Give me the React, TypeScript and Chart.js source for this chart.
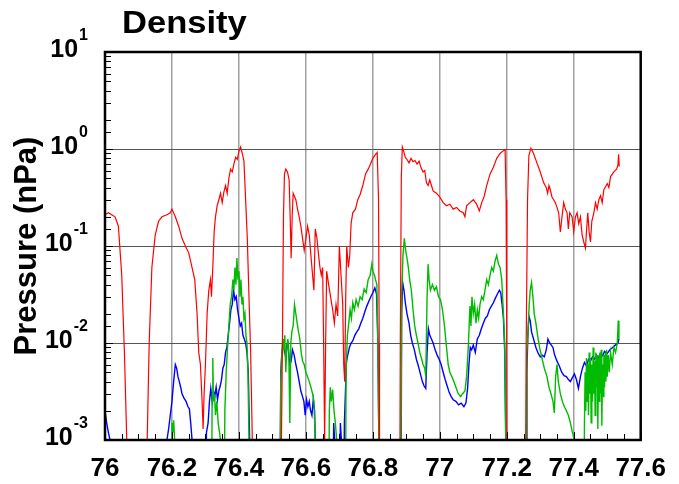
import React, { useEffect, useRef } from "react";
import { Chart, registerables } from "chart.js";
Chart.register(...registerables);

const TITLE = "Density";
const Y_TITLE = "Pressure (nPa)";
const X_MIN = 76;
const X_MAX = 77.6;
const X_LABEL_STEP = 0.2;
const X_MINOR_STEP = 0.05;
const Y_MIN = 1e-3;
const Y_MAX = 10;
const FLOOR = 1e-4; // values below the axis floor (off-scale)

const redX = [76.000,76.010,76.020,76.030,76.040,76.050,76.058,76.065,76.068,76.120,76.126,76.132,76.140,76.150,76.160,76.170,76.185,76.195,76.200,76.210,76.220,76.230,76.240,76.250,76.260,76.268,76.275,76.280,76.285,76.290,76.293,76.296,76.300,76.305,76.310,76.315,76.318,76.322,76.326,76.330,76.335,76.340,76.345,76.350,76.355,76.360,76.365,76.370,76.375,76.380,76.385,76.390,76.395,76.400,76.405,76.410,76.415,76.420,76.425,76.430,76.435,76.440,76.443,76.525,76.527,76.530,76.533,76.536,76.540,76.545,76.550,76.553,76.556,76.559,76.562,76.570,76.575,76.580,76.585,76.590,76.595,76.600,76.605,76.610,76.615,76.620,76.624,76.628,76.633,76.638,76.642,76.646,76.650,76.653,76.656,76.659,76.662,76.668,76.675,76.680,76.685,76.690,76.695,76.700,76.705,76.710,76.713,76.716,76.719,76.722,76.727,76.731,76.735,76.740,76.748,76.755,76.762,76.770,76.778,76.786,76.793,76.800,76.808,76.813,76.817,76.819,76.820,76.880,76.882,76.885,76.888,76.892,76.897,76.902,76.908,76.914,76.920,76.926,76.932,76.938,76.944,76.950,76.955,76.960,76.965,76.970,76.975,76.980,76.990,77.000,77.010,77.020,77.030,77.040,77.050,77.060,77.070,77.075,77.080,77.090,77.100,77.110,77.118,77.125,77.132,77.140,77.150,77.160,77.170,77.180,77.188,77.195,77.198,77.200,77.201,77.255,77.258,77.262,77.266,77.272,77.280,77.290,77.300,77.310,77.318,77.322,77.326,77.330,77.335,77.340,77.345,77.350,77.355,77.360,77.365,77.370,77.375,77.380,77.384,77.388,77.395,77.400,77.405,77.410,77.415,77.420,77.425,77.430,77.435,77.438,77.442,77.446,77.450,77.454,77.460,77.465,77.470,77.475,77.480,77.485,77.490,77.500,77.505,77.510,77.520,77.528,77.532,77.534,77.536];
const redY = [0.21,0.22,0.21,0.20,0.16,0.05,0.008,0.001,FLOOR,FLOOR,0.001,0.01,0.06,0.13,0.18,0.20,0.21,0.22,0.24,0.20,0.16,0.12,0.10,0.085,0.06,0.045,0.02,0.008,0.006,0.0025,0.0013,0.003,0.006,0.02,0.035,0.045,0.03,0.06,0.14,0.20,0.26,0.30,0.35,0.28,0.36,0.42,0.35,0.50,0.62,0.58,0.70,0.82,0.78,0.95,1.05,0.90,0.75,0.30,0.12,0.03,0.008,0.001,FLOOR,FLOOR,0.001,0.01,0.2,0.55,0.62,0.58,0.48,0.20,0.075,0.20,0.35,0.30,0.24,0.20,0.16,0.12,0.09,0.12,0.16,0.13,0.08,0.05,0.035,0.15,0.12,0.08,0.06,0.05,0.06,0.01,0.001,0.01,0.055,0.04,0.028,0.022,0.016,0.025,0.019,0.1,0.05,0.025,0.006,0.004,0.03,0.1,0.06,0.08,0.17,0.22,0.24,0.30,0.34,0.42,0.55,0.62,0.70,0.80,0.88,0.92,0.30,0.01,FLOOR,FLOOR,0.01,0.5,1.05,0.95,0.82,0.78,0.72,0.80,0.74,0.76,0.70,0.75,0.64,0.58,0.60,0.45,0.42,0.48,0.42,0.37,0.35,0.32,0.28,0.26,0.27,0.24,0.25,0.23,0.22,0.20,0.26,0.28,0.30,0.27,0.23,0.28,0.32,0.42,0.55,0.65,0.80,0.90,0.95,0.98,0.30,0.01,FLOOR,FLOOR,0.01,0.3,0.85,1.02,0.90,0.72,0.58,0.45,0.40,0.35,0.42,0.38,0.32,0.30,0.28,0.25,0.22,0.14,0.20,0.28,0.24,0.22,0.15,0.22,0.20,0.14,0.20,0.22,0.17,0.20,0.13,0.11,0.095,0.14,0.22,0.14,0.11,0.18,0.22,0.28,0.24,0.30,0.33,0.28,0.38,0.44,0.40,0.52,0.58,0.62,0.68,0.88,0.66];

const greenX = [76.000,76.195,76.198,76.200,76.203,76.205,76.208,76.210,76.318,76.320,76.322,76.324,76.327,76.330,76.334,76.338,76.342,76.345,76.348,76.355,76.358,76.362,76.366,76.370,76.374,76.378,76.382,76.385,76.388,76.391,76.394,76.397,76.400,76.403,76.406,76.409,76.412,76.415,76.418,76.421,76.424,76.427,76.430,76.432,76.522,76.525,76.528,76.531,76.534,76.537,76.540,76.543,76.546,76.549,76.552,76.555,76.558,76.562,76.566,76.570,76.574,76.578,76.582,76.586,76.590,76.595,76.600,76.605,76.610,76.615,76.620,76.624,76.628,76.630,76.668,76.670,76.673,76.676,76.680,76.684,76.688,76.692,76.694,76.718,76.720,76.724,76.728,76.732,76.736,76.740,76.745,76.750,76.756,76.762,76.768,76.774,76.780,76.786,76.792,76.797,76.800,76.805,76.808,76.812,76.815,76.818,76.820,76.883,76.886,76.890,76.894,76.898,76.902,76.906,76.910,76.915,76.920,76.925,76.930,76.935,76.940,76.945,76.950,76.955,76.958,76.962,76.965,76.968,76.972,76.978,76.984,76.990,76.996,77.002,77.008,77.014,77.020,77.025,77.030,77.036,77.042,77.048,77.055,77.062,77.068,77.075,77.080,77.085,77.090,77.093,77.096,77.100,77.104,77.108,77.112,77.116,77.120,77.125,77.130,77.135,77.140,77.145,77.150,77.155,77.160,77.165,77.170,77.175,77.180,77.185,77.190,77.194,77.197,77.199,77.258,77.260,77.263,77.267,77.270,77.274,77.278,77.282,77.287,77.292,77.298,77.305,77.312,77.320,77.326,77.332,77.338,77.342,77.346,77.350,77.354,77.360,77.366,77.372,77.378,77.384,77.390,77.396,77.402,77.405,77.430,77.432,77.434,77.436,77.438,77.440,77.442,77.444,77.446,77.448,77.450,77.452,77.454,77.456,77.458,77.460,77.462,77.464,77.466,77.468,77.470,77.472,77.474,77.476,77.478,77.480,77.482,77.484,77.486,77.488,77.490,77.492,77.494,77.496,77.498,77.500,77.503,77.506,77.510,77.515,77.520,77.525,77.530,77.533,77.535];
const greenY = [FLOOR,FLOOR,0.001,0.0015,0.0012,0.0016,0.001,FLOOR,FLOOR,0.003,0.007,0.0025,0.003,0.0018,0.0025,0.0015,0.0012,0.001,FLOOR,FLOOR,0.002,0.005,0.009,0.015,0.025,0.03,0.045,0.035,0.06,0.04,0.075,0.045,0.055,0.03,0.045,0.025,0.03,0.018,0.02,0.012,0.01,0.005,0.001,FLOOR,FLOOR,0.004,0.008,0.011,0.009,0.012,0.005,0.009,0.011,0.008,0.0015,0.01,0.013,0.015,0.025,0.02,0.016,0.013,0.011,0.008,0.0065,0.006,0.005,0.0045,0.004,0.0035,0.003,0.0025,0.001,FLOOR,FLOOR,0.002,0.0035,0.0025,0.0033,0.002,0.0015,0.001,FLOOR,FLOOR,0.005,0.012,0.016,0.022,0.018,0.026,0.022,0.028,0.024,0.03,0.028,0.036,0.033,0.045,0.05,0.065,0.055,0.05,0.045,0.04,0.01,0.001,FLOOR,FLOOR,0.03,0.08,0.12,0.09,0.075,0.06,0.045,0.035,0.022,0.015,0.012,0.01,0.008,0.007,0.006,0.0055,0.0045,0.03,0.065,0.045,0.035,0.04,0.035,0.038,0.03,0.028,0.022,0.015,0.009,0.006,0.005,0.0045,0.004,0.0035,0.003,0.0028,0.003,0.0032,0.0045,0.009,0.024,0.015,0.03,0.02,0.025,0.016,0.022,0.018,0.025,0.03,0.028,0.035,0.045,0.04,0.05,0.06,0.055,0.07,0.08,0.065,0.06,0.045,0.02,0.01,0.001,FLOOR,FLOOR,0.008,0.012,0.025,0.035,0.042,0.03,0.02,0.016,0.012,0.009,0.007,0.0055,0.0045,0.0035,0.003,0.0025,0.0019,0.0045,0.006,0.004,0.003,0.0025,0.0022,0.002,0.0018,0.0015,0.0012,0.001,FLOOR,FLOOR,0.0015,0.005,0.002,0.007,0.0025,0.006,0.0018,0.008,0.003,0.007,0.0015,0.006,0.0025,0.009,0.003,0.0065,0.0018,0.008,0.0035,0.0075,0.0013,0.007,0.0025,0.008,0.003,0.0085,0.0014,0.006,0.0028,0.0075,0.0035,0.008,0.004,0.0085,0.0045,0.0075,0.005,0.008,0.006,0.009,0.008,0.01,0.017,0.011];

const blueX = [76.000,76.005,76.010,76.015,76.018,76.180,76.185,76.190,76.195,76.200,76.205,76.210,76.214,76.218,76.222,76.226,76.230,76.236,76.242,76.248,76.252,76.256,76.260,76.262,76.300,76.303,76.308,76.312,76.316,76.320,76.324,76.328,76.332,76.336,76.340,76.344,76.348,76.352,76.356,76.360,76.364,76.368,76.372,76.376,76.380,76.384,76.388,76.392,76.396,76.400,76.404,76.408,76.412,76.416,76.420,76.424,76.428,76.432,76.434,76.522,76.525,76.528,76.531,76.534,76.537,76.540,76.543,76.546,76.549,76.552,76.556,76.560,76.565,76.570,76.575,76.580,76.585,76.590,76.594,76.598,76.602,76.606,76.610,76.614,76.618,76.622,76.626,76.628,76.630,76.680,76.683,76.686,76.688,76.700,76.703,76.706,76.708,76.712,76.715,76.718,76.721,76.725,76.730,76.735,76.740,76.746,76.752,76.758,76.764,76.770,76.776,76.782,76.788,76.794,76.800,76.806,76.811,76.815,76.818,76.820,76.884,76.886,76.889,76.893,76.897,76.902,76.908,76.913,76.918,76.924,76.930,76.936,76.942,76.948,76.953,76.958,76.962,76.966,76.970,76.975,76.980,76.986,76.992,76.998,77.004,77.010,77.016,77.022,77.028,77.034,77.040,77.048,77.056,77.064,77.072,77.078,77.083,77.087,77.091,77.095,77.100,77.106,77.112,77.118,77.124,77.130,77.136,77.142,77.148,77.154,77.160,77.166,77.172,77.178,77.182,77.186,77.190,77.194,77.197,77.199,77.258,77.260,77.263,77.266,77.270,77.274,77.280,77.287,77.294,77.300,77.306,77.312,77.318,77.323,77.328,77.333,77.338,77.343,77.350,77.357,77.364,77.371,77.378,77.384,77.390,77.396,77.402,77.408,77.414,77.420,77.426,77.432,77.438,77.444,77.450,77.456,77.462,77.468,77.474,77.480,77.486,77.492,77.500,77.508,77.516,77.524,77.532,77.535];
const blueY = [0.002,0.0015,0.0012,0.001,FLOOR,FLOOR,0.001,0.0013,0.0018,0.0025,0.004,0.006,0.0055,0.0045,0.004,0.0035,0.003,0.0027,0.0025,0.0022,0.0021,0.0015,0.001,FLOOR,FLOOR,0.0012,0.0015,0.0025,0.0034,0.0025,0.0032,0.0028,0.0035,0.0026,0.0032,0.0036,0.0042,0.0055,0.006,0.008,0.009,0.012,0.016,0.022,0.025,0.035,0.028,0.03,0.022,0.018,0.015,0.016,0.012,0.011,0.01,0.008,0.005,0.001,FLOOR,FLOOR,0.005,0.0075,0.009,0.011,0.008,0.007,0.0095,0.01,0.0075,0.006,0.0065,0.0085,0.0075,0.006,0.005,0.004,0.0032,0.0028,0.0025,0.0018,0.0026,0.0022,0.0025,0.002,0.0018,0.0026,0.002,0.001,FLOOR,FLOOR,0.0015,0.001,FLOOR,FLOOR,0.0015,0.001,FLOOR,FLOOR,0.0015,0.003,0.0063,0.0075,0.009,0.01,0.0105,0.012,0.013,0.014,0.016,0.018,0.021,0.024,0.027,0.03,0.033,0.037,0.032,0.01,0.001,FLOOR,FLOOR,0.02,0.042,0.035,0.026,0.02,0.016,0.012,0.01,0.0085,0.0068,0.0058,0.0048,0.004,0.0036,0.0034,0.008,0.014,0.012,0.011,0.01,0.0085,0.0075,0.0068,0.006,0.005,0.0042,0.0036,0.0031,0.0028,0.0026,0.0025,0.0023,0.0024,0.0022,0.0024,0.0034,0.006,0.009,0.0085,0.0095,0.008,0.011,0.012,0.014,0.016,0.018,0.019,0.022,0.024,0.026,0.029,0.032,0.035,0.033,0.025,0.018,0.008,0.001,FLOOR,FLOOR,0.005,0.012,0.019,0.017,0.013,0.011,0.009,0.0078,0.0072,0.0075,0.0072,0.0085,0.011,0.01,0.0095,0.009,0.0075,0.0065,0.0058,0.005,0.0046,0.0045,0.0042,0.004,0.0044,0.0048,0.0042,0.0034,0.0045,0.0055,0.0063,0.0058,0.0068,0.0065,0.0072,0.0068,0.0075,0.007,0.0078,0.0074,0.0082,0.0078,0.0085,0.009,0.0095,0.01,0.011];

const FONT = '"Liberation Sans", Arial, Helvetica, sans-serif';

const toPts = (xs: number[], ys: number[]) => xs.map((x, i) => ({ x, y: ys[i] }));
const isPow10 = (v: number) => Math.abs(Math.log10(v) - Math.round(Math.log10(v))) < 1e-9;
const isMajorX = (v: number) => {
  const k = (v - X_MIN) / X_LABEL_STEP;
  return Math.abs(k - Math.round(k)) < 1e-6;
};

const decor = {
  id: "decor",
  afterDraw(chart: any) {
    const { ctx, chartArea: a, scales } = chart;
    const xs = scales.x;
    const ys = scales.y;
    ctx.save();
    ctx.strokeStyle = "#000";
    ctx.lineWidth = 1;
    // inward y ticks
    ys.ticks.forEach((t: any) => {
      const py = ys.getPixelForValue(t.value);
      if (py < a.top - 1 || py > a.bottom + 1) return;
      const len = isPow10(t.value) ? 8 : 6;
      ctx.beginPath();
      ctx.moveTo(a.left, Math.round(py) + 0.5);
      ctx.lineTo(a.left + len, Math.round(py) + 0.5);
      ctx.stroke();
    });
    // inward x ticks
    xs.ticks.forEach((t: any) => {
      const px = xs.getPixelForValue(t.value);
      const len = isMajorX(t.value) ? 8 : 6;
      ctx.beginPath();
      ctx.moveTo(Math.round(px) + 0.5, a.bottom);
      ctx.lineTo(Math.round(px) + 0.5, a.bottom - len);
      ctx.stroke();
    });
    // frame
    ctx.lineWidth = 2.5;
    ctx.strokeRect(a.left, a.top, a.right - a.left, a.bottom - a.top);

    // y tick labels 10^n (group right-aligned)
    ctx.fillStyle = "#000";
    ctx.textBaseline = "alphabetic";
    const rightEdge = 88;
    ys.ticks.forEach((t: any) => {
      if (!isPow10(t.value)) return;
      const e = String(Math.round(Math.log10(t.value)));
      const py = ys.getPixelForValue(t.value);
      ctx.font = `bold 16px ${FONT}`;
      ctx.textAlign = "right";
      const ew = ctx.measureText(e).width;
      ctx.fillText(e, rightEdge, py - 12);
      ctx.font = `bold 25px ${FONT}`;
      ctx.fillText("10", rightEdge - ew - 1, py + 5);
    });

    // title
    ctx.font = `bold 32px ${FONT}`;
    ctx.textAlign = "left";
    ctx.save();
    ctx.translate(122, 33);
    ctx.scale(1.08, 1);
    ctx.fillText(TITLE, 0, 0);
    ctx.restore();

    // y axis title
    ctx.save();
    ctx.translate(36, 246);
    ctx.rotate(-Math.PI / 2);
    ctx.font = `bold 31px ${FONT}`;
    ctx.textAlign = "center";
    ctx.fillText(Y_TITLE, 0, 0);
    ctx.restore();
    ctx.restore();
  },
};

export default function App() {
  const ref = useRef<HTMLCanvasElement | null>(null);
  useEffect(() => {
    document.body.style.margin = "0";
    const canvas = ref.current!;
    const chart = new Chart(canvas, {
      type: "line",
      data: {
        datasets: [
          { label: "red", data: toPts(redX, redY), borderColor: "#ff0000", borderWidth: 1.2 },
          { label: "green", data: toPts(greenX, greenY), borderColor: "#00bb00", borderWidth: 1.4 },
          { label: "blue", data: toPts(blueX, blueY), borderColor: "#0000ff", borderWidth: 1.4 },
        ],
      },
      options: {
        animation: false,
        responsive: false,
        devicePixelRatio: 1,
        parsing: false,
        normalized: true,
        elements: { point: { radius: 0 }, line: { tension: 0 } },
        layout: { padding: { left: 0, top: 52, right: 29, bottom: 0 } },
        plugins: { legend: { display: false }, tooltip: { enabled: false }, title: { display: false } },
        scales: {
          x: {
            type: "linear",
            min: X_MIN,
            max: X_MAX,
            border: { display: false },
            grid: {
              drawTicks: false,
              color: (c: any) => (c.tick && isMajorX(c.tick.value) ? "#a0a0a0" : "rgba(0,0,0,0)"),
              lineWidth: 1.5,
            },
            ticks: {
              stepSize: X_MINOR_STEP,
              maxTicksLimit: 100,
              autoSkip: false,
              maxRotation: 0,
              padding: 13,
              color: "#000",
              font: { family: FONT, size: 26, weight: "bold" },
              callback: (v: any) => {
                const n = Number(v);
                if (!isMajorX(n)) return "";
                return String(parseFloat(n.toFixed(1)));
              },
            },
            afterFit: (s: any) => { s.height = 44; },
          },
          y: {
            type: "logarithmic",
            min: Y_MIN,
            max: Y_MAX,
            border: { display: false },
            grid: {
              drawTicks: false,
              color: (c: any) => (c.tick && isPow10(c.tick.value) ? "#555555" : "rgba(0,0,0,0)"),
              lineWidth: 1,
            },
            ticks: { display: false },
            afterFit: (s: any) => { s.width = 105; },
          },
        },
      },
      plugins: [decor],
    } as any);
    return () => chart.destroy();
  }, []);
  return (
    <div style={{ position: "fixed", left: 0, top: 0, width: 679, height: 484, background: "#fff" }}>
      <canvas ref={ref} width={679} height={484} />
    </div>
  );
}
